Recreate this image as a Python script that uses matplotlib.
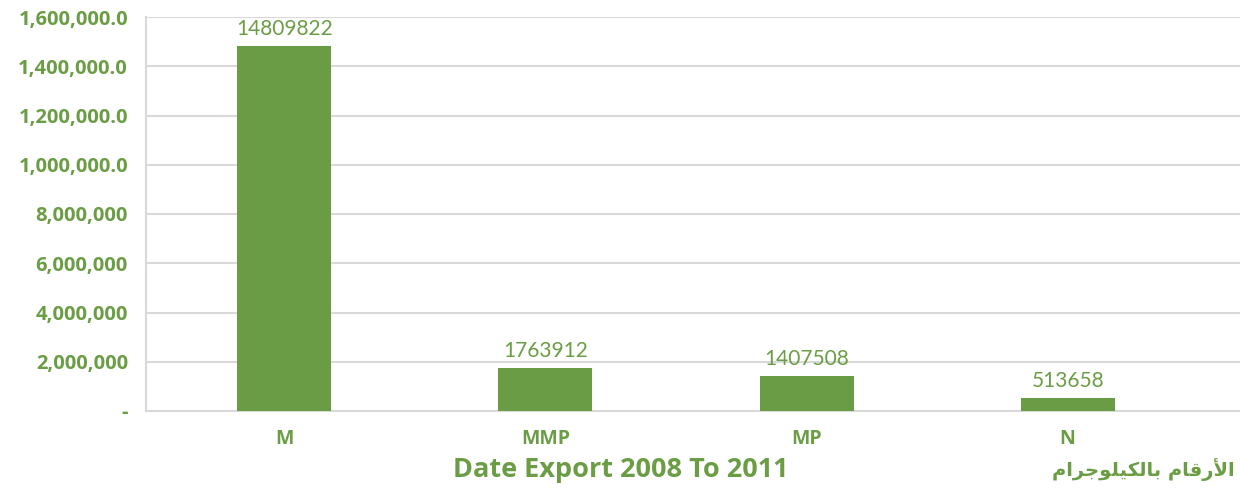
import matplotlib

matplotlib.use("Agg")

import matplotlib.pyplot as plt

CATEGORIES = ["M", "MMP", "MP", "N"]
VALUES = [14809822, 1763912, 1407508, 513658]
Y_TICKS = [0, 2000000, 4000000, 6000000, 8000000, 10000000, 12000000, 14000000, 16000000]
Y_TICK_LABELS = [
    "-", "2,000,000", "4,000,000", "6,000,000", "8,000,000",
    "1,000,000.0", "1,200,000.0", "1,400,000.0", "1,600,000.0",
]
TITLE = "Date Export 2008 To 2011"
UNIT_NOTE = "الأرقام بالكيلوجرام"

GREEN = "#6a9c46"
TEXT_GREEN = "#6b9d45"
GRID = "#d9d9d9"
BOLD_FONT = "Open Sans"

# minimal Arabic shaping (matplotlib has no complex text layout)
FORMS = {
    "ا": ("\ufe8d", "\ufe8e", None, None),
    "أ": ("\ufe83", "\ufe84", None, None),
    "ر": ("\ufead", "\ufeae", None, None),
    "و": ("\ufeed", "\ufeee", None, None),
    "ل": ("\ufedd", "\ufede", "\ufedf", "\ufee0"),
    "ق": ("\ufed5", "\ufed6", "\ufed7", "\ufed8"),
    "م": ("\ufee1", "\ufee2", "\ufee3", "\ufee4"),
    "ب": ("\ufe8f", "\ufe90", "\ufe91", "\ufe92"),
    "ك": ("\ufed9", "\ufeda", "\ufedb", "\ufedc"),
    "ي": ("\ufef1", "\ufef2", "\ufef3", "\ufef4"),
    "ج": ("\ufe9d", "\ufe9e", "\ufe9f", "\ufea0"),
}
LAM_ALEF = {"أ": ("\ufef7", "\ufef8"), "ا": ("\ufefb", "\ufefc")}


def shape_arabic(text: str) -> str:
    out = []
    i = 0
    while i < len(text):
        ch = text[i]
        if ch not in FORMS:
            out.append(ch)
            i += 1
            continue
        prev = text[i - 1] if i > 0 else " "
        joins_prev = prev in FORMS and FORMS[prev][2] is not None
        if ch == "ل" and i + 1 < len(text) and text[i + 1] in LAM_ALEF:
            out.append(LAM_ALEF[text[i + 1]][1 if joins_prev else 0])
            i += 2
            continue
        nxt = text[i + 1] if i + 1 < len(text) else " "
        joins_next = nxt in FORMS and FORMS[ch][2] is not None
        iso, fin, ini, med = FORMS[ch]
        if joins_prev and joins_next:
            out.append(med)
        elif joins_prev:
            out.append(fin)
        elif joins_next:
            out.append(ini)
        else:
            out.append(iso)
        i += 1
    return "".join(reversed(out))


fig = plt.figure(figsize=(12.4, 4.91), dpi=100)
ax = fig.add_axes([146 / 1240, 80 / 491, 1094 / 1240, 394 / 491])

x = list(range(len(CATEGORIES)))
bars = ax.bar(x, VALUES, width=0.36, color=GREEN, zorder=3)
for rect, value in zip(bars, VALUES):
    ax.annotate(
        str(value),
        (rect.get_x() + rect.get_width() / 2, rect.get_height()),
        xytext=(0, 5),
        textcoords="offset points",
        ha="center",
        va="bottom",
        fontsize=15,
        family="Lato",
        color=TEXT_GREEN,
    )

ax.set_xlim(-0.53, 3.66)
ax.set_ylim(0, 16000000)
ax.set_yticks(Y_TICKS)
ax.set_yticklabels(Y_TICK_LABELS, fontsize=14.5, fontweight="bold", family=BOLD_FONT, color=TEXT_GREEN)
ax.set_xticks(x)
ax.set_xticklabels(CATEGORIES, fontsize=14, fontweight="bold", family=BOLD_FONT, color=TEXT_GREEN)
ax.tick_params(axis="y", length=0, pad=13)
ax.tick_params(axis="x", length=0, pad=13)
ax.grid(axis="y", color=GRID, linewidth=1.5, zorder=0)
for side in ("top", "right"):
    ax.spines[side].set_visible(False)
for side in ("left", "bottom"):
    ax.spines[side].set_color(GRID)
    ax.spines[side].set_linewidth(1.5)

fig.text(621 / 1240, 1 - 470 / 491, TITLE, ha="center", va="center",
         fontsize=19.5, fontweight="bold", family=BOLD_FONT, color=TEXT_GREEN)
fig.text(1235 / 1240, 1 - 470 / 491, shape_arabic(UNIT_NOTE), ha="right", va="center",
         fontsize=14, fontweight="bold", family="DejaVu Sans", color=TEXT_GREEN)

fig.savefig("out.png", dpi=100)
